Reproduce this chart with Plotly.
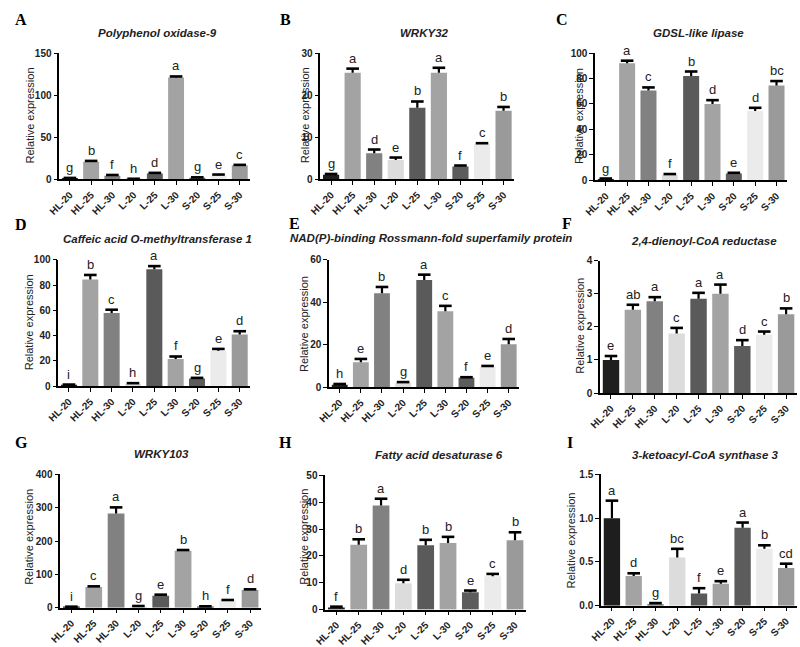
import plotly.graph_objects as go

W, H = 800, 647

categories = ["HL-20", "HL-25", "HL-30", "L-20", "L-25", "L-30", "S-20", "S-25", "S-30"]
bar_colors = ["#1e1e1e", "#a3a3a3", "#818181", "#dcdcdc", "#5a5a5a",
              "#a3a3a3", "#5c5c5c", "#ebebeb", "#9a9a9a"]

panel_labels = ["A", "B", "C", "D", "E", "F", "G", "H", "I"]
titles = ["Polyphenol oxidase-9", "WRKY32", "GDSL-like lipase",
          "Caffeic acid O-methyltransferase 1",
          "NAD(P)-binding Rossmann-fold superfamily protein",
          "2,4-dienoyl-CoA reductase", "WRKY103", "Fatty acid desaturase 6",
          "3-ketoacyl-CoA synthase 3"]

vals_A = [1.0, 21, 4.5, 0.5, 7, 121, 2, 5, 16.5]
err_A = [0.8, 1, 0.8, 0.3, 0.8, 1.2, 0.5, 0.8, 0.8]
let_A = ["g", "b", "f", "h", "d", "a", "g", "e", "c"]

vals_B = [1.1, 25.3, 6.2, 4.6, 17.0, 25.3, 3.1, 8.4, 16.3]
err_B = [0.2, 1.0, 0.9, 0.6, 1.5, 1.2, 0.2, 0.2, 0.9]
let_B = ["g", "a", "d", "e", "b", "a", "f", "c", "b"]

vals_C = [1.2, 92, 70.5, 4.5, 82, 60, 5.5, 54.5, 74.5]
err_C = [0.3, 2, 2.5, 0.5, 3.5, 3, 0.5, 2.5, 3.5]
let_C = ["g", "a", "c", "f", "b", "d", "e", "d", "bc"]

vals_D = [1.0, 84.5, 58, 2.0, 92.5, 21.5, 6.0, 28, 41]
err_D = [0.3, 3.5, 2.5, 0.4, 2.5, 2.0, 0.6, 1.5, 2.5]
let_D = ["i", "b", "c", "h", "a", "f", "g", "e", "d"]

vals_E = [1.2, 11.8, 44.2, 2.1, 50.5, 35.8, 4.4, 9.6, 20.2]
err_E = [0.3, 1.5, 3.0, 0.3, 2.5, 2.5, 0.3, 0.4, 2.5]
let_E = ["h", "e", "b", "g", "a", "c", "f", "e", "d"]

vals_F = [1.0, 2.52, 2.78, 1.8, 2.85, 3.0, 1.42, 1.76, 2.38]
err_F = [0.12, 0.15, 0.12, 0.17, 0.18, 0.28, 0.18, 0.1, 0.18]
let_F = ["e", "ab", "a", "c", "a", "a", "d", "c", "b"]

vals_G = [2, 62, 283, 3, 36, 171, 3, 22, 53]
err_G = [1, 2, 18, 2, 3, 2, 1, 1, 2]
let_G = ["i", "c", "a", "g", "e", "b", "h", "f", "d"]

vals_H = [0.8, 24.2, 38.8, 9.8, 24.0, 24.8, 6.5, 12.4, 25.8]
err_H = [0.3, 2.0, 2.5, 1.3, 2.0, 2.3, 0.6, 0.9, 3.0]
let_H = ["f", "b", "a", "d", "b", "b", "e", "c", "b"]

vals_I = [1.0, 0.34, 0.02, 0.55, 0.14, 0.25, 0.89, 0.65, 0.43]
err_I = [0.2, 0.03, 0.01, 0.1, 0.06, 0.03, 0.06, 0.04, 0.05]
let_I = ["a", "d", "g", "bc", "f", "e", "a", "b", "cd"]

y_max = [150, 30, 100, 100, 60, 4, 400, 50, 1.5]
y_dtick = [50, 10, 20, 20, 20, 1, 100, 10, 0.5]
y_fmt = ["", "", "", "", "", "", "", "", ".1f"]

all_vals = [vals_A, vals_B, vals_C, vals_D, vals_E, vals_F, vals_G, vals_H, vals_I]
all_errs = [err_A, err_B, err_C, err_D, err_E, err_F, err_G, err_H, err_I]
all_lets = [let_A, let_B, let_C, let_D, let_E, let_F, let_G, let_H, let_I]

# layout geometry in pixels: (x0, x1, ytop, ybottom)
geom = [(48, 242, 48, 177), (313, 510, 48, 177), (592, 787, 48, 178),
        (47, 242, 259, 388), (322, 515, 259, 389), (597, 797, 260, 395),
        (49, 253, 478, 614), (318, 522, 479, 616), (598, 797, 478, 612)]
title_pos = [(148, 28), (419, 28), (697, 28), (148, 238), (425, 237),
             (703, 240), (152, 457), (434, 458), (704, 458)]
letter_pos = [(9, 14), (278, 14), (558, 14), (9, 223), (287, 222),
              (563, 222), (10, 445), (278, 445), (567, 445)]
ytitle_pos = [(18, 112), (297, 112), (575, 112), (17, 323), (297, 325),
              (577, 326), (17, 542), (297, 542), (568, 545)]

SANS = "Liberation Sans, Arial, sans-serif"
SERIF = "Liberation Serif, Times New Roman, serif"

fig = go.Figure()
annotations = []
layout = {}

def px(x):
    return x / W

def py(y):
    return 1 - y / H

for k in range(9):
    n = "" if k == 0 else str(k + 1)
    xa, ya = "x" + n, "y" + n
    x0, x1, yt, yb = geom[k]
    vals, errs = all_vals[k], all_errs[k]
    tops = [v + e for v, e in zip(vals, errs)]
    fig.add_trace(go.Bar(
        x=categories, y=vals, xaxis=xa, yaxis=ya,
        marker=dict(color=bar_colors, line=dict(width=0)),
        width=0.75, showlegend=False, hoverinfo="skip"))
    # upper-only error bars: stem + cap
    sx, sy = [], []
    for c, v, t in zip(categories, vals, tops):
        sx += [c, c, None]
        sy += [v, t, None]
    fig.add_trace(go.Scatter(
        x=sx, y=sy, xaxis=xa, yaxis=ya, mode="lines",
        line=dict(color="black", width=2.2), showlegend=False,
        hoverinfo="skip", cliponaxis=False))
    fig.add_trace(go.Scatter(
        x=categories, y=tops, xaxis=xa, yaxis=ya, mode="markers",
        marker=dict(symbol="line-ew", size=9, color="black",
                    line=dict(color="black", width=2.6)),
        showlegend=False, hoverinfo="skip", cliponaxis=False))
    layout["xaxis" + n] = dict(
        domain=[px(x0), px(x1)], anchor=ya, range=[-0.5, 8.5],
        showline=True, linecolor="black", linewidth=1.5,
        ticks="outside", ticklen=4, tickwidth=1.3, tickcolor="black",
        tickangle=-45, tickfont=dict(family=SANS, size=10, color="#222", weight="bold"),
        showgrid=False, zeroline=False, fixedrange=True)
    layout["yaxis" + n] = dict(
        domain=[py(yb), py(yt)], anchor=xa, range=[0, y_max[k]],
        dtick=y_dtick[k], tick0=0, tickformat=y_fmt[k],
        showline=True, linecolor="black", linewidth=1.5,
        ticks="outside", ticklen=4, tickwidth=1.3, tickcolor="black",
        tickfont=dict(family=SANS, size=10, color="#222", weight="bold"),
        showgrid=False, zeroline=False, fixedrange=True)
    for i, c in enumerate(categories):
        annotations.append(dict(
            x=c, y=tops[i], xref=xa, yref=ya,
            text=all_lets[k][i], showarrow=False, yanchor="bottom", yshift=1,
            font=dict(family=SANS, size=13, color="#222")))
    tx, ty = title_pos[k]
    annotations.append(dict(
        x=px(tx), y=py(ty), xref="paper", yref="paper",
        text="<b><i>" + titles[k] + "</i></b>", showarrow=False,
        xanchor="center", yanchor="middle",
        font=dict(family=SANS, size=11.5, color="#222")))
    lx, ly = letter_pos[k]
    annotations.append(dict(
        x=px(lx), y=py(ly), xref="paper", yref="paper",
        text="<b>" + panel_labels[k] + "</b>", showarrow=False,
        xanchor="center", yanchor="middle",
        font=dict(family=SERIF, size=16, color="black")))
    ax_, ay_ = ytitle_pos[k]
    annotations.append(dict(
        x=px(ax_), y=py(ay_), xref="paper", yref="paper",
        text="Relative expression", showarrow=False, textangle=-90,
        xanchor="center", yanchor="middle",
        font=dict(family=SANS, size=11, color="#222")))

fig.update_layout(
    width=W, height=H, margin=dict(l=0, r=0, t=0, b=0),
    paper_bgcolor="white", plot_bgcolor="white",
    annotations=annotations, bargap=0.25, **layout)

fig.write_html("out.html")
